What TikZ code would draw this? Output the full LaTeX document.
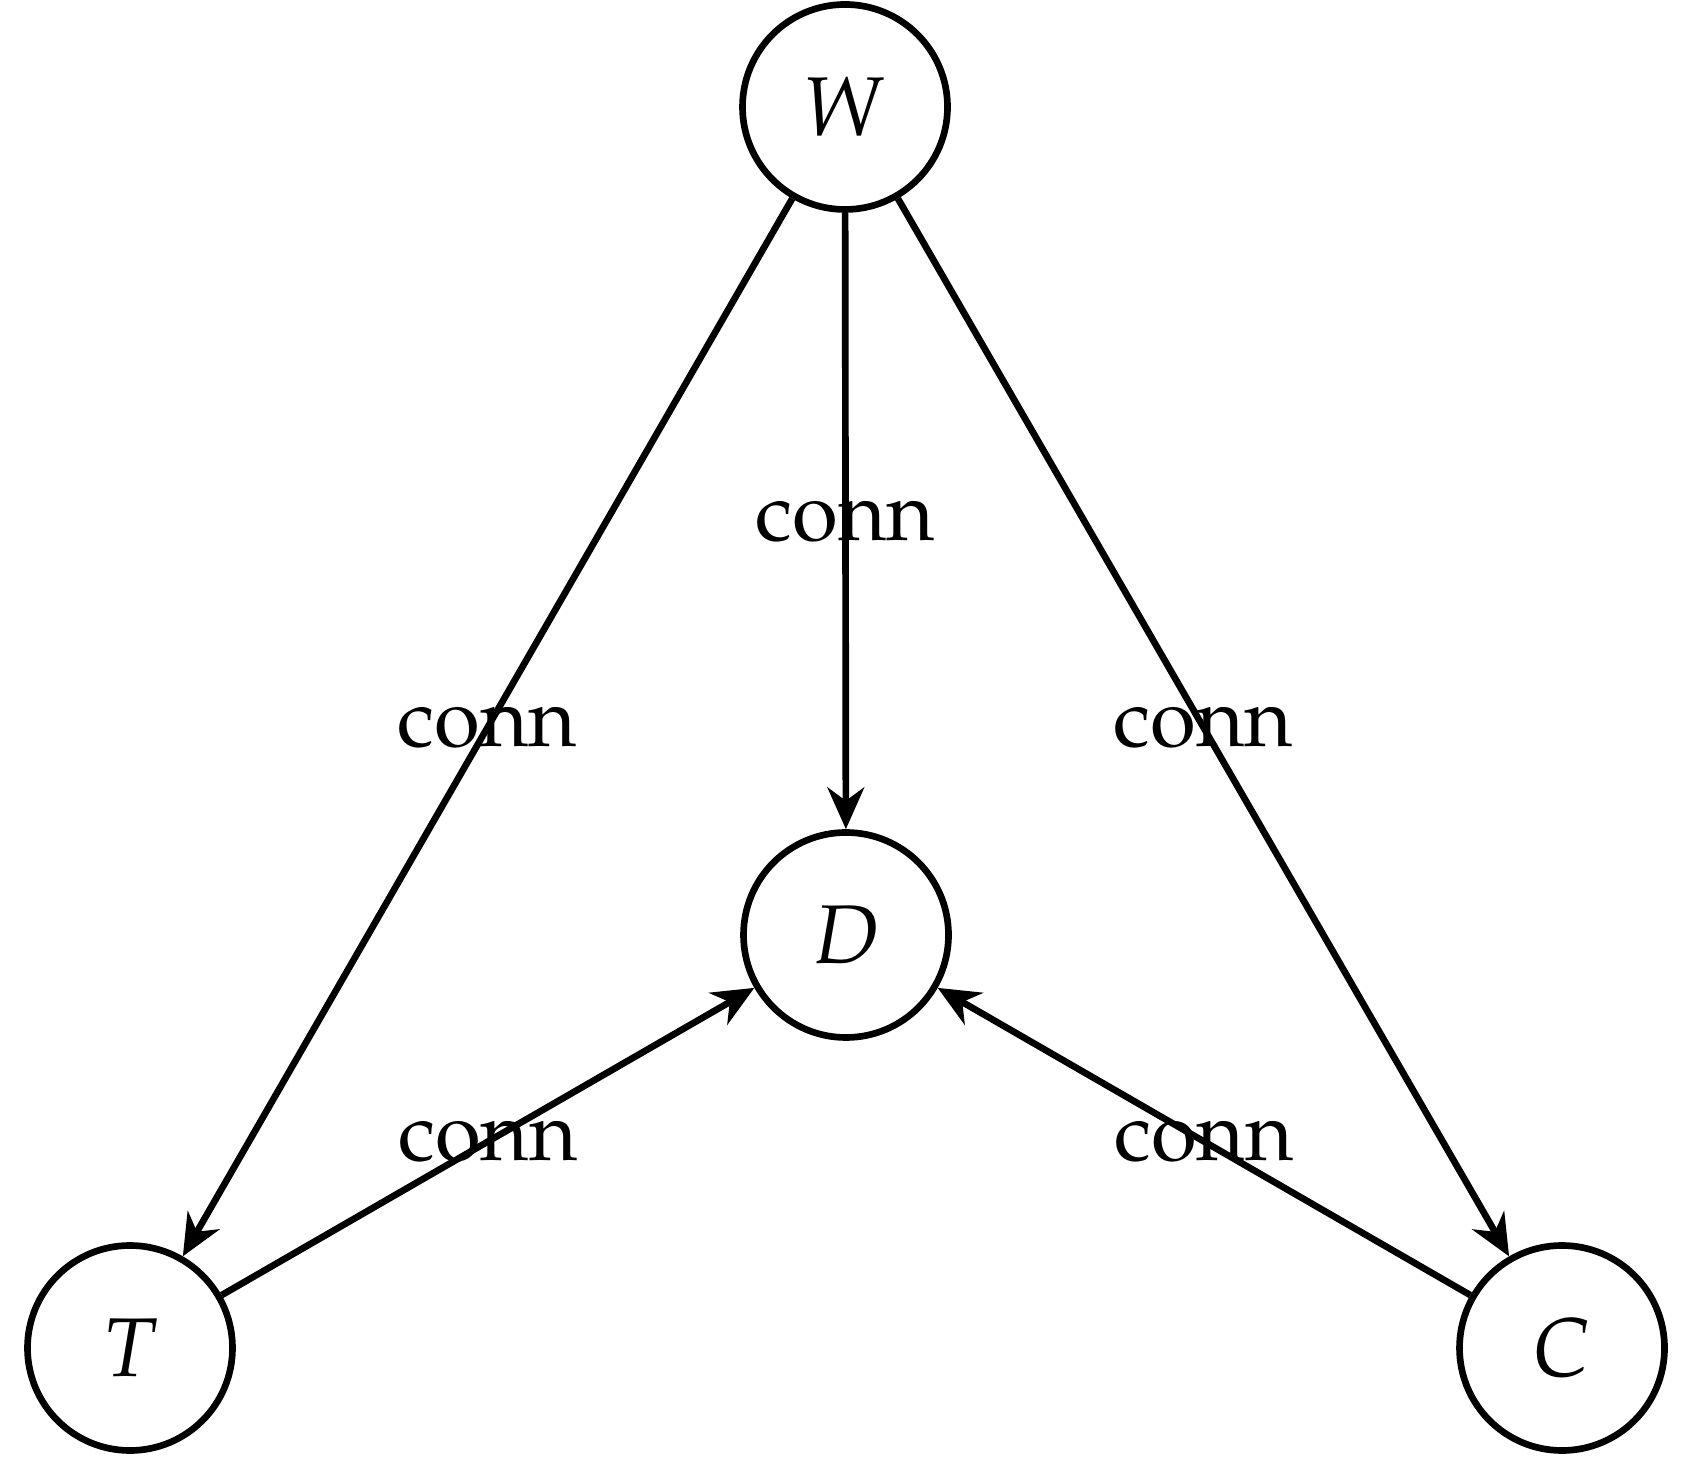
\documentclass[tikz,border=0pt]{standalone}
\usepackage[T1]{fontenc}
\usepackage{mathpazo}
\usetikzlibrary{arrows.meta}
\begin{document}
\begin{tikzpicture}[x=0.12pt,y=-0.12pt,
  state/.style={circle,draw,line width=0.8pt,minimum size=24.6pt,inner sep=0pt},
  conn/.style={line width=0.8pt,-{Stealth[length=5pt,width=4.4pt,inset=1.6pt]}},
  lbl/.style={midway,inner sep=0pt,font=\fontencoding{T1}\fontfamily{ppl}\selectfont}]
\useasboundingbox (0,0) rectangle (1695,1472);
\node[state] (W) at (845,107) {$W$};
\node[state] (D) at (846,935) {$D$};
\node[state] (T) at (130,1348) {$T$};
\node[state] (C) at (1562,1348) {$C$};
\draw[conn] (W) -- (D) node[lbl] {conn};
\draw[conn] (W) -- (T) node[lbl] {conn};
\draw[conn] (W) -- (C) node[lbl] {conn};
\draw[conn] (T) -- (D) node[lbl] {conn};
\draw[conn] (C) -- (D) node[lbl] {conn};
\end{tikzpicture}
\end{document}
